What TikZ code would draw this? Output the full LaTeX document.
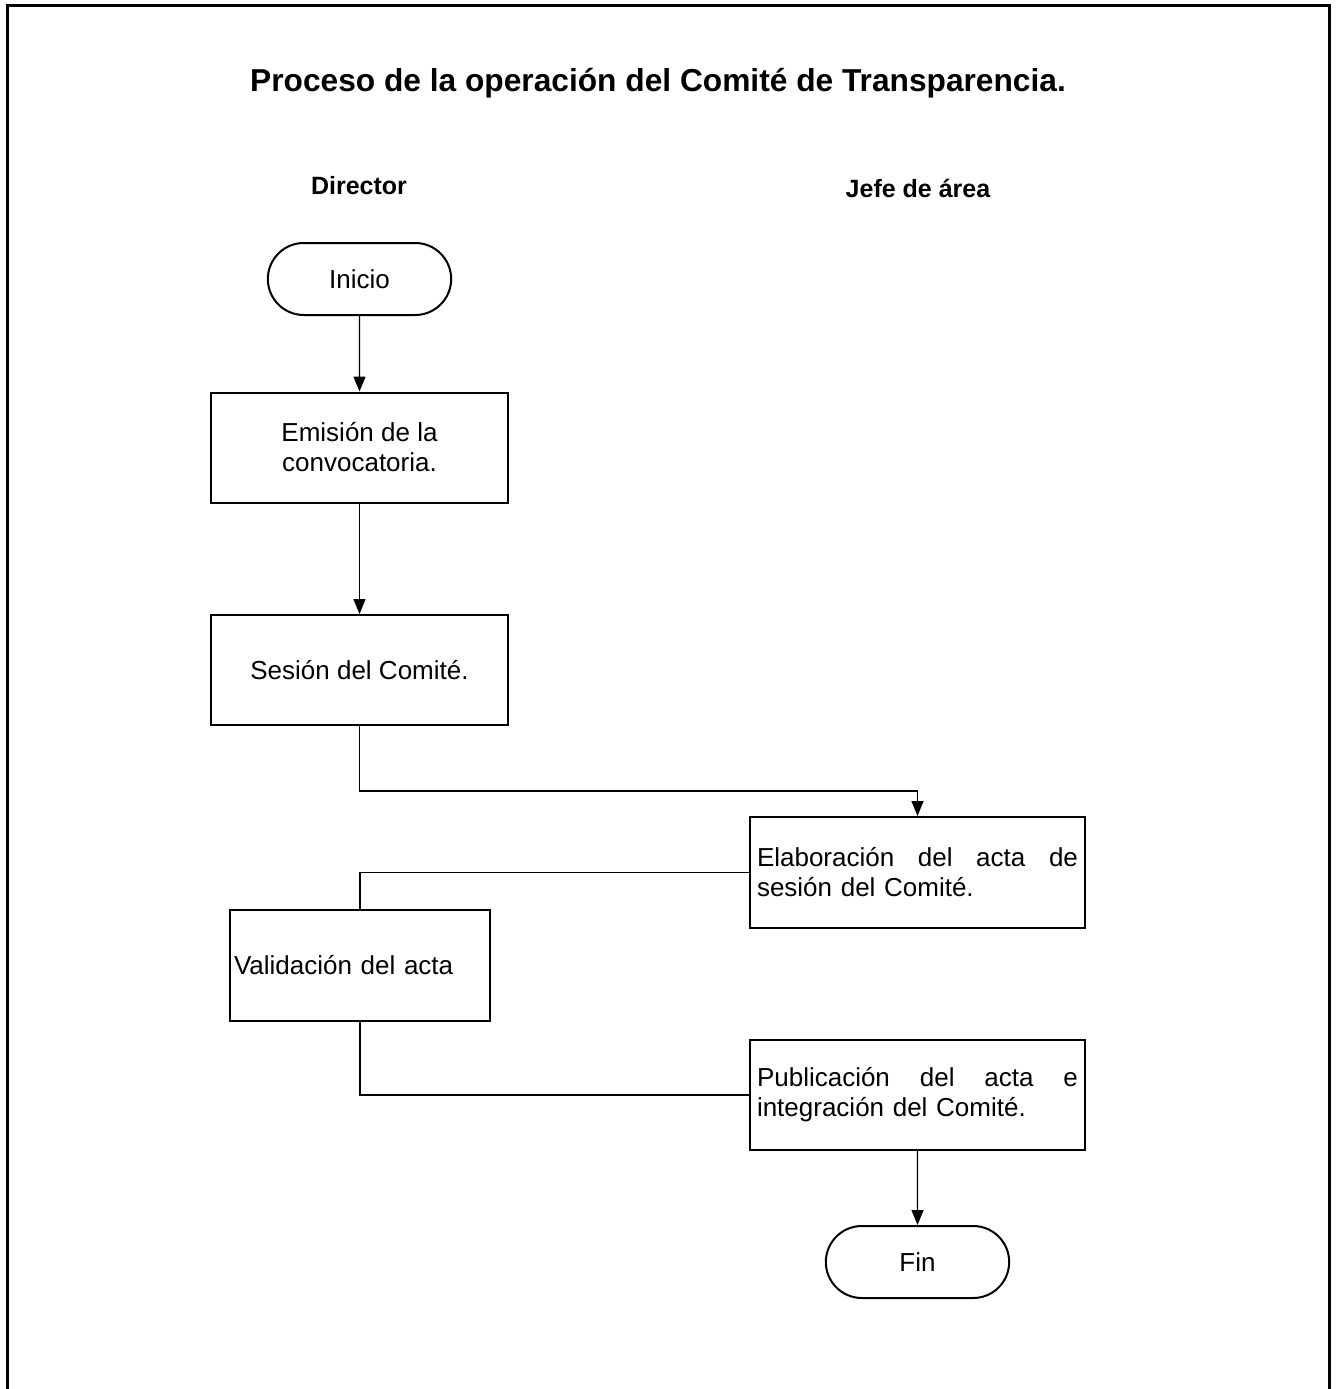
\documentclass[tikz,border=0pt]{standalone}
\usepackage{fontspec}
\setmainfont{Liberation Sans}
\usetikzlibrary{arrows.meta,shapes.misc}

\begin{document}
\begin{tikzpicture}[x=1pt, y=-1pt,
        caja/.style={draw, line width=2pt, font=\fontsize{26}{30}\selectfont},
        terminal/.style={caja, rounded rectangle, minimum width=190pt, minimum height=72pt},
        proceso/.style={caja, rectangle, minimum width=297pt, minimum height=110pt, align=center},
        linea/.style={line width=1.3pt},
        flecha/.style={linea, -{Triangle[length=15pt,width=12pt]}}]
        \useasboundingbox (0,0) rectangle (1337,1389);

        % Marco
        \draw[line width=3pt] (7,1389) -- (7,6) -- (1329,6) -- (1329,1389);

        % Titulo y columnas
        \node[font=\fontsize{31.7}{36}\selectfont\bfseries] (titulo) at (658,83) {Proceso de la operación del Comité de Transparencia.};
        \node[font=\fontsize{25}{30}\selectfont\bfseries] (director) at (359,186) {Director};
        \node[font=\fontsize{25}{30}\selectfont\bfseries] (jefe) at (918,188) {Jefe de área};

        % Director
        \node[terminal] (inicio) at (359.5,279) {Inicio};
        \node[proceso] (emision) at (359.5,447.5) {Emisión de la\\convocatoria.};
        \node[proceso] (sesion) at (359.5,670) {Sesión del Comité.};
        \node[caja, text width=252pt, inner xsep=4pt, minimum height=111pt, align=left] (validacion) at (360,965.5) {Validación del acta};

        % Jefe de area
        \node[caja, text width=321pt, inner xsep=7pt, minimum height=111pt, align=left] (elaboracion) at (917.5,872.5)
            {Elaboración\hfill del\hfill acta\hfill de\\sesión del Comité.};
        \node[caja, text width=321pt, inner xsep=7pt, minimum height=110pt, align=left] (publicacion) at (917.5,1095)
            {Publicación\hfill del\hfill acta\hfill e\\integración del Comité.};
        \node[terminal] (fin) at (917.5,1262) {Fin};

        % Conectores
        \draw[flecha] (inicio) -- (emision);
        \draw[flecha] (emision) -- (sesion);
        \draw[flecha] (sesion.south) -- ++(0,65) -| (elaboracion.north);
        \draw[linea] (elaboracion.west) -| (validacion.north);
        \draw[linea] (validacion.south) |- (publicacion.west);
        \draw[flecha] (publicacion) -- (fin);
    \end{tikzpicture}
\end{document}
